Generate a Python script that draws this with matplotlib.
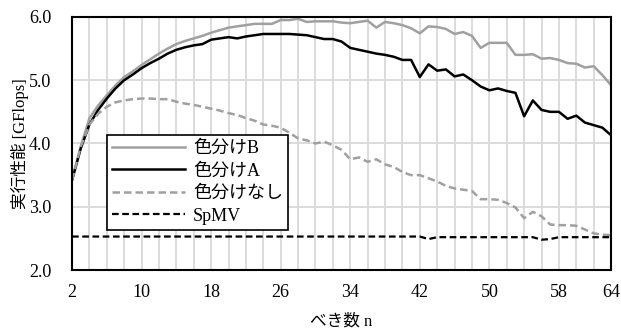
import matplotlib
matplotlib.use("Agg")
import matplotlib.pyplot as plt
import numpy as np

plt.rcParams['font.family'] = ['Liberation Serif', 'Noto Sans CJK JP']

# べき数 n (2..64)
n_values = list(range(2, 65))

# 色分けB
color_b = [3.42, 3.95, 4.40, 4.60, 4.76, 4.92, 5.05, 5.14, 5.24, 5.33,
           5.42, 5.50, 5.57, 5.62, 5.66, 5.70, 5.75, 5.79, 5.83, 5.85,
           5.87, 5.89, 5.89, 5.89, 5.95, 5.95, 5.97, 5.92, 5.93, 5.93,
           5.93, 5.91, 5.90, 5.92, 5.94, 5.83, 5.92, 5.90, 5.87, 5.82,
           5.74, 5.85, 5.84, 5.81, 5.73, 5.76, 5.70, 5.51, 5.59, 5.59,
           5.59, 5.40, 5.40, 5.41, 5.34, 5.35, 5.32, 5.27, 5.26, 5.20,
           5.22, 5.08, 4.92]

# 色分けA
color_a = [3.42, 3.92, 4.30, 4.53, 4.71, 4.87, 5.00, 5.09, 5.19, 5.27,
           5.34, 5.42, 5.48, 5.52, 5.55, 5.57, 5.64, 5.66, 5.68, 5.66,
           5.69, 5.71, 5.73, 5.73, 5.73, 5.73, 5.72, 5.71, 5.68, 5.65,
           5.65, 5.61, 5.51, 5.48, 5.45, 5.42, 5.40, 5.37, 5.32, 5.32,
           5.05, 5.25, 5.15, 5.17, 5.06, 5.09, 5.00, 4.90, 4.84, 4.87,
           4.83, 4.80, 4.43, 4.68, 4.53, 4.50, 4.50, 4.39, 4.44, 4.33,
           4.29, 4.25, 4.13]

# 色分けなし
no_color = [3.42, 3.95, 4.30, 4.47, 4.58, 4.65, 4.68, 4.70, 4.71, 4.71,
            4.70, 4.70, 4.66, 4.63, 4.61, 4.58, 4.55, 4.52, 4.48, 4.45,
            4.40, 4.36, 4.30, 4.28, 4.25, 4.17, 4.08, 4.05, 4.00, 4.03,
            3.97, 3.90, 3.75, 3.78, 3.71, 3.75, 3.67, 3.63, 3.55, 3.50,
            3.50, 3.45, 3.40, 3.33, 3.29, 3.27, 3.25, 3.12, 3.12, 3.11,
            3.06, 2.99, 2.82, 2.92, 2.85, 2.72, 2.71, 2.71, 2.70, 2.64,
            2.58, 2.56, 2.55]

# SpMV
spmv = [2.53, 2.53, 2.53, 2.53, 2.53, 2.53, 2.53, 2.53, 2.53, 2.53,
        2.53, 2.53, 2.53, 2.53, 2.53, 2.53, 2.53, 2.53, 2.53, 2.53,
        2.53, 2.53, 2.53, 2.53, 2.53, 2.53, 2.53, 2.53, 2.53, 2.53,
        2.53, 2.53, 2.53, 2.53, 2.53, 2.53, 2.53, 2.53, 2.53, 2.53,
        2.53, 2.49, 2.52, 2.52, 2.52, 2.52, 2.52, 2.52, 2.52, 2.52,
        2.52, 2.52, 2.52, 2.52, 2.48, 2.49, 2.52, 2.52, 2.52, 2.52,
        2.52, 2.52, 2.52]

x_ticks = [2, 10, 18, 26, 34, 42, 50, 58, 64]
y_ticks = [2.0, 3.0, 4.0, 5.0, 6.0]

fig = plt.figure(figsize=(6.21, 3.31), dpi=100)
ax = fig.add_axes([0.116, 0.184, 0.868, 0.765])

# Gridlines every 2 on x, every 1.0 on y
for gx in range(2, 65, 2):
    ax.axvline(gx, color='#d9d9d9', lw=1.3, zorder=0)
for gy in [3.0, 4.0, 5.0]:
    ax.axhline(gy, color='#d9d9d9', lw=1.3, zorder=0)

gray = '#a0a0a0'
ax.plot(n_values, color_b, color=gray, lw=1.8, label='色分けB')
ax.plot(n_values, color_a, color='black', lw=1.8, label='色分けA')
ax.plot(n_values, no_color, color=gray, lw=1.8, ls=(0, (3, 1.6)), label='色分けなし')
ax.plot(n_values, spmv, color='black', lw=1.6, ls=(0, (3, 1.6)), label='SpMV')

ax.set_xlim(2, 64)
ax.set_ylim(2.0, 6.0)
ax.set_xticks(x_ticks)
ax.set_yticks(y_ticks)
ax.set_yticklabels(['%.1f' % v for v in y_ticks])
ax.tick_params(axis='x', length=0, labelsize=13, pad=10)
ax.tick_params(axis='y', length=0, labelsize=13, pad=15)

for spine in ax.spines.values():
    spine.set_linewidth(1.5)
    spine.set_color('black')

ax.set_xlabel('べき数 n', fontsize=12, labelpad=9)
ax.set_ylabel('実行性能 [GFlops]', fontsize=12, labelpad=0)

leg = ax.legend(loc='upper left', bbox_to_anchor=(0.065, 0.534), fontsize=13,
                frameon=True, fancybox=False, edgecolor='black', framealpha=1,
                handlelength=4.0, borderaxespad=0, borderpad=0.3,
                labelspacing=0.3, handletextpad=0.45)
leg.get_frame().set_linewidth(1.2)

fig.savefig('out.png', dpi=100)
